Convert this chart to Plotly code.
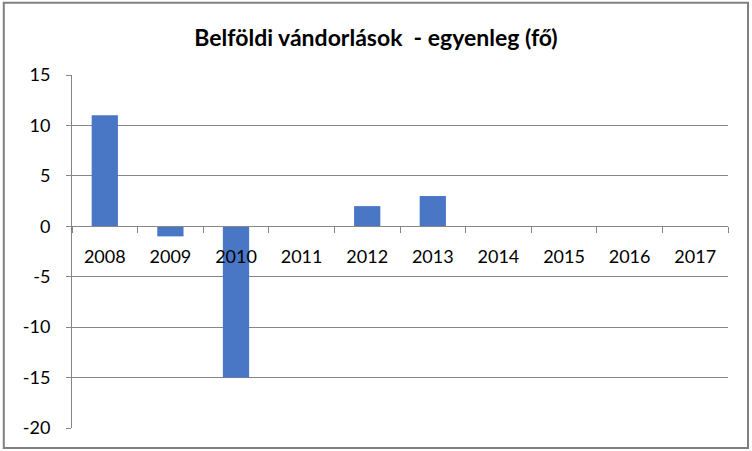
import plotly.graph_objects as go

evek = ["2008", "2009", "2010", "2011", "2012", "2013", "2014", "2015", "2016", "2017"]
egyenleg = [11, -1, -15, 0, 2, 3, 0, 0, 0, 0]
y_ticks = [-20, -15, -10, -5, 0, 5, 10, 15]

y_min, y_max = -20, 15

fig = go.Figure()

fig.add_trace(go.Bar(
    x=evek,
    y=egyenleg,
    marker=dict(color="#4A76C6", line=dict(width=0)),
))

# keret a teljes diagram körül
fig.add_shape(type="rect", xref="paper", yref="paper",
              x0=-0.104, x1=1.0305, y0=-0.057, y1=1.205,
              line=dict(color="#808080", width=2), fillcolor="rgba(0,0,0,0)")

fig.update_layout(
    width=752, height=451,
    margin=dict(l=72, r=24, t=75, b=23),
    paper_bgcolor="white",
    plot_bgcolor="white",
    showlegend=False,
    bargap=0.6,
    font=dict(family="Lato, Open Sans, sans-serif", color="#000000"),
    title=dict(text="<b>Belföldi vándorlások  - egyenleg (fő)</b>",
               x=0.5, xref="container", xanchor="center",
               y=0.915, yanchor="middle",
               font=dict(size=23, family="Lato, Open Sans, sans-serif")),
    xaxis=dict(
        type="category",
        anchor="free",
        position=(0 - y_min) / (y_max - y_min),
        showline=True, linecolor="#868686", linewidth=1,
        ticks="outside", ticklen=6, tickcolor="#868686",
        tickson="boundaries",
        showgrid=False,
        tickfont=dict(size=18),
        ticklabelstandoff=14,
    ),
    yaxis=dict(
        range=[y_min, y_max],
        tickvals=y_ticks,
        ticktext=[str(v) for v in y_ticks],
        showgrid=True, gridcolor="#868686", gridwidth=1,
        zeroline=False,
        showline=True, linecolor="#868686", linewidth=1,
        ticks="outside", ticklen=5, tickcolor="#868686",
        tickfont=dict(size=18),
        ticklabelstandoff=12,
    ),
)

fig.write_html("out.html", config={"displayModeBar": False},
               post_script="document.body.style.margin='0';")
